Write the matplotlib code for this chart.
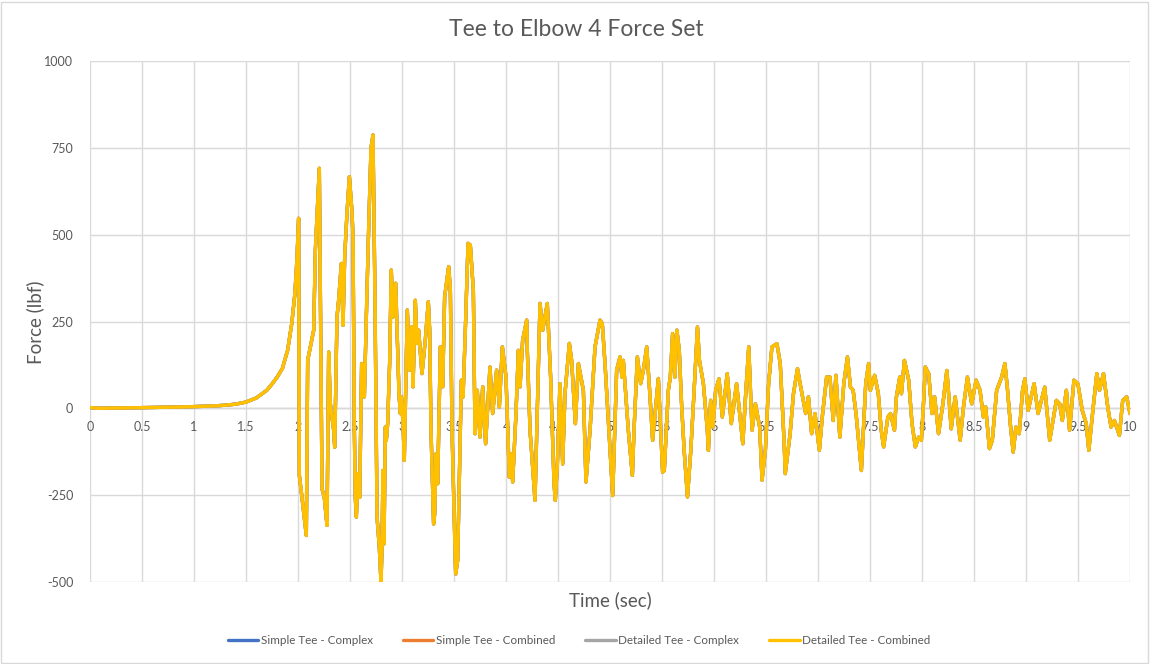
import matplotlib
matplotlib.use("Agg")
import matplotlib.pyplot as plt
from matplotlib.patches import Rectangle

plt.rcParams['font.family'] = ['Lato', 'DejaVu Sans']

title = "Tee to Elbow 4 Force Set"
x_label = "Time (sec)"
y_label = "Force (lbf)"
series_names = ["Simple Tee - Complex", "Simple Tee - Combined",
                "Detailed Tee - Complex", "Detailed Tee - Combined"]
series_colors = ["#4472C4", "#ED7D31", "#A5A5A5", "#FFC000"]

time_sec = [
    0, 0.1, 0.2, 0.3, 0.5, 0.7, 0.9, 1.0, 1.1, 1.2, 1.3, 1.4, 1.5, 1.6, 1.7, 1.75,
    1.8, 1.85, 1.9, 1.94, 1.97, 1.99, 2.006,
    2.013, 2.038, 2.080, 2.093, 2.151, 2.167, 2.205, 2.231, 2.253, 2.279, 2.295,
    2.311, 2.343, 2.353, 2.375, 2.391, 2.417, 2.433, 2.449, 2.471, 2.494, 2.519,
    2.529, 2.542, 2.551, 2.561, 2.577, 2.593, 2.612, 2.625, 2.638, 2.657, 2.679,
    2.702, 2.721, 2.740, 2.760, 2.782, 2.798, 2.808, 2.817, 2.827, 2.840, 2.849,
    2.862, 2.881, 2.897, 2.913, 2.939, 2.958, 2.971, 2.984, 2.994, 3.010, 3.022,
    3.051, 3.074, 3.096, 3.106, 3.128, 3.144, 3.160, 3.192, 3.224, 3.253, 3.266,
    3.279, 3.304, 3.314, 3.327, 3.343, 3.369, 3.391, 3.410, 3.449, 3.465, 3.481,
    3.516, 3.535, 3.571, 3.587, 3.609, 3.635, 3.657, 3.686,
    3.702, 3.724, 3.750, 3.776, 3.804, 3.846, 3.872, 3.910, 3.936, 3.965, 4.000,
    4.032, 4.051, 4.064, 4.096, 4.119, 4.135, 4.160, 4.199, 4.205, 4.231, 4.279,
    4.327, 4.353, 4.397, 4.429, 4.462, 4.474, 4.494, 4.519, 4.545, 4.567, 4.609,
    4.631, 4.667, 4.696, 4.744, 4.769, 4.808, 4.856, 4.904, 4.926, 4.952, 5.026,
    5.064, 5.096, 5.115, 5.128, 5.176, 5.215, 5.231, 5.263, 5.295, 5.321, 5.353,
    5.385, 5.410, 5.465, 5.506, 5.522,
    5.561, 5.580, 5.602, 5.624, 5.643, 5.666, 5.688, 5.713, 5.745, 5.777, 5.809,
    5.841, 5.860, 5.898, 5.936, 5.946, 5.968, 5.990, 6.016, 6.048, 6.080, 6.127,
    6.166, 6.217, 6.277, 6.303, 6.334, 6.366, 6.398, 6.439, 6.462, 6.494, 6.525,
    6.557, 6.605, 6.637, 6.675, 6.685, 6.732, 6.764, 6.803, 6.828, 6.882, 6.908,
    6.939, 6.971, 7.013, 7.041, 7.083, 7.115, 7.146, 7.172, 7.210, 7.248, 7.283,
    7.312, 7.338, 7.369, 7.417, 7.459, 7.487, 7.503, 7.545, 7.580, 7.608, 7.631,
    7.672, 7.697,
    7.735, 7.754, 7.786, 7.802, 7.831, 7.872, 7.904, 7.936, 7.968, 7.994, 8.016,
    8.032, 8.064, 8.096, 8.121, 8.159, 8.201, 8.239, 8.281, 8.319, 8.367, 8.399,
    8.437, 8.478, 8.520, 8.558, 8.590, 8.612, 8.648, 8.676, 8.718, 8.766, 8.797,
    8.820, 8.852, 8.877, 8.903, 8.935, 8.967, 8.989, 9.021, 9.078, 9.116, 9.180,
    9.228, 9.292, 9.324, 9.349, 9.388, 9.419, 9.461, 9.499, 9.541, 9.579, 9.604,
    9.643, 9.681, 9.707, 9.745, 9.786, 9.818, 9.850, 9.898, 9.930, 9.968, 10.0,
]

force_lbf = [
    2, 0, 1, 1, 2, 3, 4, 5, 6, 7, 9, 12, 18, 30, 52, 70,
    90, 115, 167, 244, 330, 430, 547,
    -193, -256, -366, 138, 225, 456, 691, -232, -256, -337, 162,
    13, -63, -112, 263, 312, 417, 239, 437, 562, 667, 566,
    494, -63, -256, -313, -188, -256, 129, 42, 33, 263, 513,
    749, 787, 321, -313, -400, -500, -400, -179, -390, -54, -92,
    -44, 129, 398, 263, 360, 177, 42, -15, 33, -44, -150,
    283, 110, 235, 62, 311, 187, 225, 100, 196, 307, 225,
    -63, -333, -304, -131, -217, 177, 62, 321, 408, 340, -63,
    -477, -438, 81, 33, 225, 475, 470, 340,
    -73, 52, -83, 62, -102, 119, -15, 110, 4, 177, 90,
    -198, -131, -212, -15, 167, 62, 196, 254, 167, -63, -265,
    302, 225, 302, 90, -217, -265, -160, 71, -160, 42, 187,
    138, -44, 129, 52, -212, -63, 177, 254, 244, 129, -251,
    110, 148, 90, 138, -63, -193, -63, 148, 71, 110, 177,
    33, -92, 86, -184, -179,
    52, 90, 215, 90, 225, 167, 13, -121, -255, -121, 52,
    234, 138, 71, -63, -121, 23, -54, 52, 85, -25, 100,
    -44, 71, -102, 33, 177, -63, 13, -54, -207, -121, 71,
    177, 186, 129, -102, -188, -73, 42, 114, 71, -15, 33,
    -73, -15, -121, -25, 90, 90, -35, 95, -83, 71, 148,
    61, 52, -25, -179, 71, 129, 52, 95, 42, -63, -111,
    -25, -15,
    -63, 33, 90, 42, 138, 81, -44, -111, -83, -92, 23,
    119, 100, -15, 33, -73, 13, 109, -59, 33, -92, 4,
    90, 13, 81, 52, -25, 4, -116, -92, 52, 90, 129,
    61, -54, -126, -54, -73, 52, 85, -6, 71, -15, 61,
    -92, 23, 13, -35, 52, -63, 81, 71, -6, -44, -121,
    -6, 100, 52, 100, 4, -54, -35, -78, 23, 33, -15,
]

simple_complex = force_lbf
simple_combined = force_lbf
detailed_complex = force_lbf
detailed_combined = force_lbf
all_series = [simple_complex, simple_combined, detailed_complex, detailed_combined]

x_ticks = [i * 0.5 for i in range(21)]
x_tick_labels = ["0", "0.5", "1", "1.5", "2", "2.5", "3", "3.5", "4", "4.5", "5",
                 "5.5", "6", "6.5", "7", "7.5", "8", "8.5", "9", "9.5", "10"]
y_ticks = [-500, -250, 0, 250, 500, 750, 1000]
y_tick_labels = ["-500", "-250", "0", "250", "500", "750", "1000"]

text_col = "#595959"
grid_col = "#D9D9D9"

fig = plt.figure(figsize=(11.5, 6.64), dpi=100)
ax = fig.add_axes([90 / 1150, 1 - 582 / 664, 1040 / 1150, 521 / 664])

for name, col, vals in zip(series_names, series_colors, all_series):
    ax.plot(time_sec, vals, color=col, lw=2.4, label=name,
            solid_joinstyle='round', solid_capstyle='round')

ax.set_xlim(0, 10)
ax.set_ylim(-500, 1000)
ax.set_xticks(x_ticks)
ax.set_xticklabels(x_tick_labels)
ax.set_yticks(y_ticks)
ax.set_yticklabels(y_tick_labels)
ax.grid(True, color=grid_col, lw=1.0)
ax.set_axisbelow(True)

for s in ["top", "right", "left"]:
    ax.spines[s].set_visible(False)
ax.spines["bottom"].set_position(("data", 0))
ax.spines["bottom"].set_color("#BFBFBF")
ax.spines["bottom"].set_linewidth(1.0)
ax.spines["bottom"].set_zorder(0.5)

ax.tick_params(axis="x", length=0, pad=9, labelsize=9, labelcolor=text_col)
ax.tick_params(axis="y", length=0, pad=12, labelsize=9, labelcolor=text_col)

fig.text(576 / 1150, 1 - 30 / 664, title, ha="center", va="center",
         fontsize=16.5, color=text_col)
fig.text(35 / 1150, 1 - 322 / 664, y_label, ha="center", va="center",
         rotation=90, fontsize=13.5, color=text_col)
fig.text(610 / 1150, 1 - 600 / 664, x_label, ha="center", va="center",
         fontsize=13.5, color=text_col)

leg = fig.legend(loc="center", bbox_to_anchor=(579 / 1150, 1 - 641 / 664), ncol=4,
                 frameon=False, fontsize=8.4, handlelength=2.6, handletextpad=0.2,
                 columnspacing=2.6)
for t in leg.get_texts():
    t.set_color(text_col)

fig.patches.append(Rectangle((0.001, 0.002), 0.997, 0.995, transform=fig.transFigure,
                             fill=False, edgecolor="#D9D9D9", lw=1.0))

fig.savefig("out.png", dpi=100, facecolor="white")
